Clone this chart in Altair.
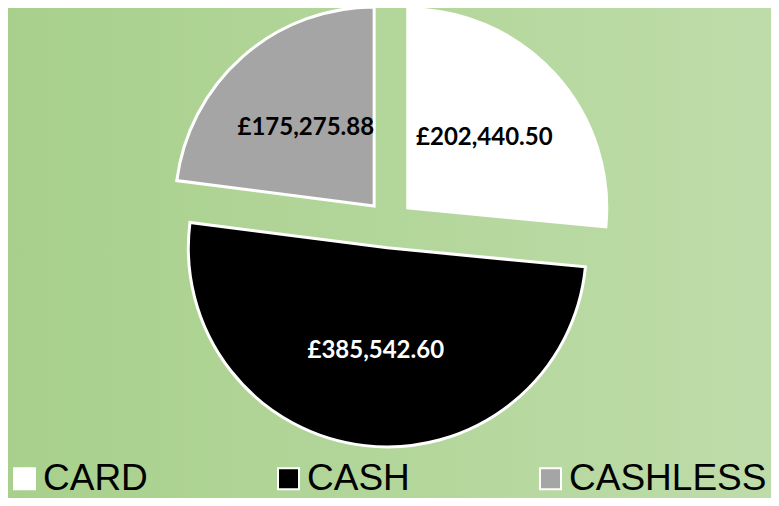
import altair as alt
import pandas as pd

# ---- data ----
methods = ["CARD", "CASH", "CASHLESS"]
amounts = [202440.50, 385542.60, 175275.88]
fill_colors = ["#ffffff", "#000000", "#a5a5a5"]
label_colors = ["black", "white", "black"]

df = pd.DataFrame({
    "method": methods,
    "amount": amounts,
    "order": list(range(len(methods))),
    "labelColor": label_colors,
})

# ---- layout constants ----
W, H = 763, 490
CX, CY = 382, 216      # pie centre (px)
R = 199                # pie radius (px)
EXPLODE = 24           # explosion offset (px)
LABEL_F = 0.52         # label distance as a fraction of the radius

base = alt.Chart(df).transform_joinaggregate(
    total="sum(amount)"
).transform_window(
    cum="sum(amount)", sort=[alt.SortField("order")]
).transform_calculate(
    t1="datum.cum / datum.total * 2 * PI",
    t0="(datum.cum - datum.amount) / datum.total * 2 * PI",
).transform_calculate(
    mid="(datum.t0 + datum.t1) / 2",
).transform_calculate(
    px=f"{CX} + {EXPLODE} * sin(datum.mid)",
    py=f"{CY} - {EXPLODE} * cos(datum.mid)",
).transform_calculate(
    lx=f"datum.px + {LABEL_F * R} * sin(datum.mid)",
    ly=f"datum.py - {LABEL_F * R} * cos(datum.mid)",
    label="'£' + format(datum.amount, ',.2f')",
)

bg = alt.Chart(pd.DataFrame({"a": [0]})).mark_rect(
    color=alt.LinearGradient(
        gradient="linear",
        stops=[
            alt.GradientStop(color="#a8d08c", offset=0),
            alt.GradientStop(color="#bedca9", offset=1),
        ],
        x1=0, x2=1, y1=0, y2=0,
    )
).encode(x=alt.value(0), x2=alt.value(W), y=alt.value(0), y2=alt.value(H))

arcs = base.mark_arc(radius=R, stroke="white", strokeWidth=3).encode(
    x=alt.X("px:Q", scale=None),
    y=alt.Y("py:Q", scale=None),
    theta=alt.Theta("t0:Q", scale=None),
    theta2=alt.Theta2("t1:Q"),
    color=alt.Color(
        "method:N",
        scale=alt.Scale(domain=methods, range=fill_colors),
        legend=alt.Legend(
            title=None,
            orient="none",
            legendX=-2,
            legendY=452,
            direction="horizontal",
            columns=3,
            columnPadding=122,
            padding=0,
            symbolType="square",
            symbolSize=441,
            symbolStrokeColor="white",
            symbolStrokeWidth=2,
            symbolOpacity=1,
            labelFont="Liberation Sans",
            labelFontSize=37,
            labelColor="black",
            labelOffset=0,
            labelLimit=400,
        ),
    ),
)

labels = base.mark_text(
    font="Lato", fontSize=24, fontWeight="bold", align="center", baseline="middle"
).encode(
    x=alt.X("lx:Q", scale=None),
    y=alt.Y("ly:Q", scale=None),
    text="label:N",
    color=alt.Color("labelColor:N", scale=None),
)

chart = alt.layer(bg, arcs, labels).properties(
    width=W, height=H, padding=0, autosize=alt.AutoSizeParams(type="none")
).configure_view(strokeWidth=0)

chart.save("out.html", embed_options={"renderer": "svg", "actions": False})
